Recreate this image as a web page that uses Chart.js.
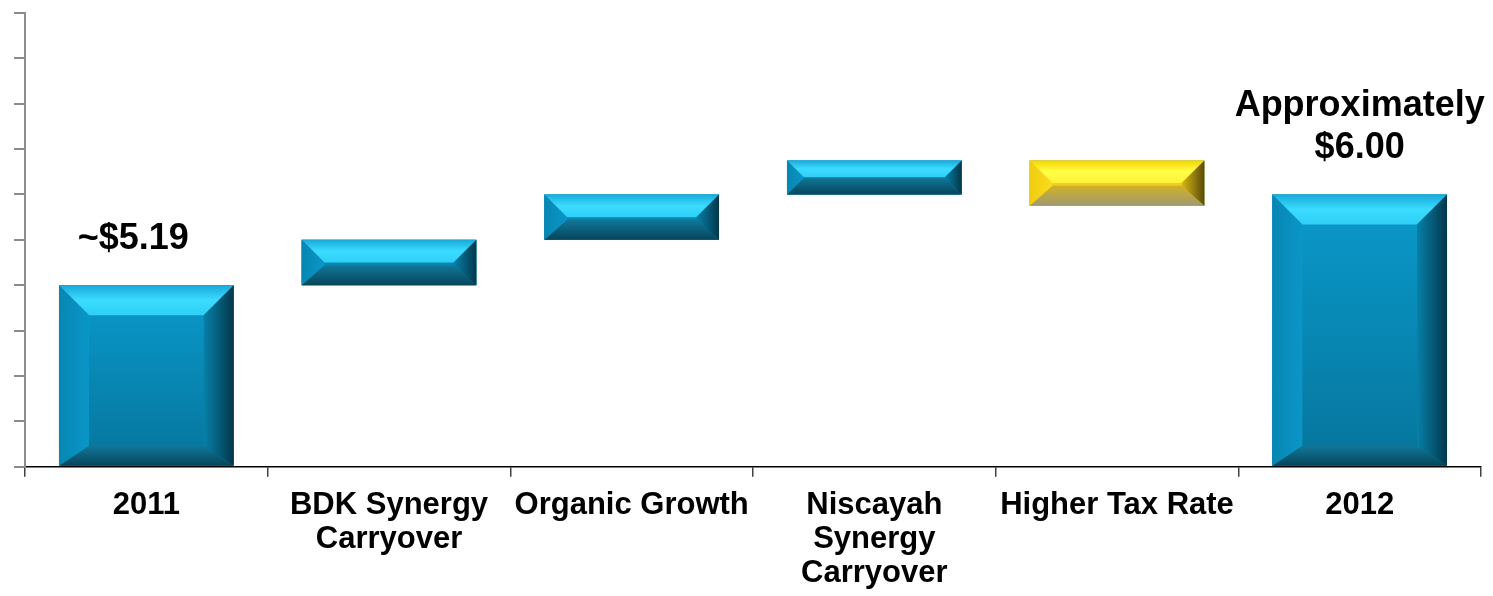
<!DOCTYPE html>
<html>
<head>
<meta charset="utf-8">
<script src="https://cdn.jsdelivr.net/npm/chart.js@4/dist/chart.umd.min.js"></script>
<style>
  html, body { margin: 0; padding: 0; background: #ffffff; }
  #wrap { width: 1493px; height: 596px; position: relative; }
</style>
</head>
<body>
<div id="wrap"><canvas id="barChart"></canvas></div>
<script>
// waterfall steps (1 unit = 1 tick on the hidden y axis)
var categories = [
  ["2011"],
  ["BDK Synergy", "Carryover"],
  ["Organic Growth"],
  ["Niscayah", "Synergy", "Carryover"],
  ["Higher Tax Rate"],
  ["2012"],
];
var barStart = [0, 4, 5, 6, 6.75, 0];
var barEnd = [4, 5, 6, 6.75, 5.75, 6];
var valueLabels = [["~$5.19"], [], [], [], [], ["Approximately", "$6.00"]];
var yMin = 0;
var yMax = 10;
var yStep = 1;

var blueBevel = {
  face: ["#0a9acc", "#06759c"],
  top: ["#1aa9da", "#3bdcff", "#2fcff6"],
  left: ["#0786b2", "#0a96c8"],
  right: ["#0780a8", "#03374b"],
  bottom: ["#117898", "#06455c"],
};
var yellowBevel = {
  face: ["#f8d81e", "#eac31a"],
  top: ["#f4d400", "#ffff48", "#fff23a"],
  left: ["#f0cc10", "#fadc1e"],
  right: ["#d8b814", "#5a4a08"],
  bottom: ["#d0b028", "#a09a70"],
};

function poly(ctx, pts, fill) {
  ctx.beginPath();
  ctx.moveTo(pts[0][0], pts[0][1]);
  for (var i = 1; i < pts.length; i++) ctx.lineTo(pts[i][0], pts[i][1]);
  ctx.closePath();
  ctx.fillStyle = fill;
  ctx.fill();
}

function lin(ctx, xa, ya, xb, yb, stops) {
  var g = ctx.createLinearGradient(xa, ya, xb, yb);
  stops.forEach(function (c, i) {
    g.addColorStop(i / (stops.length - 1), c);
  });
  return g;
}

var bevelPlugin = {
  id: "bevel",
  afterDatasetsDraw: function (chart) {
    var ctx = chart.ctx;
    var meta = chart.getDatasetMeta(0);
    meta.data.forEach(function (bar, i) {
      var p = bar.getProps(["x", "y", "base", "width"], true);
      var x0 = p.x - p.width / 2;
      var x1 = p.x + p.width / 2;
      var y0 = Math.min(p.y, p.base);
      var y1 = Math.max(p.y, p.base);
      var h = y1 - y0;
      var pal = barEnd[i] < barStart[i] ? yellowBevel : blueBevel;
      var dt = Math.min(30, h / 2);
      var ds = Math.min(30, h / 2);
      var db = Math.min(20, h - dt);
      ctx.save();
      poly(ctx, [[x0, y0], [x1, y0], [x1, y1], [x0, y1]], lin(ctx, 0, y0, 0, y1, pal.face));
      poly(ctx, [[x0, y0], [x1, y0], [x1 - ds, y0 + dt], [x0 + ds, y0 + dt]],
        lin(ctx, 0, y0, 0, y0 + dt, pal.top));
      poly(ctx, [[x0, y1], [x1, y1], [x1 - ds, y1 - db], [x0 + ds, y1 - db]],
        lin(ctx, 0, y1 - db, 0, y1, pal.bottom));
      poly(ctx, [[x0, y0], [x0 + ds, y0 + dt], [x0 + ds, y1 - db], [x0, y1]],
        lin(ctx, x0, 0, x0 + ds, 0, pal.left));
      poly(ctx, [[x1, y0], [x1 - ds, y0 + dt], [x1 - ds, y1 - db], [x1, y1]],
        lin(ctx, x1 - ds, 0, x1, 0, pal.right));
      ctx.restore();
    });
  },
};

var valueLabelPlugin = {
  id: "valueLabels",
  afterDatasetsDraw: function (chart, args, opts) {
    var ctx = chart.ctx;
    var meta = chart.getDatasetMeta(0);
    ctx.save();
    ctx.font = "bold 36px 'Liberation Sans', Arial, sans-serif";
    ctx.fillStyle = "#000000";
    ctx.textAlign = "center";
    ctx.textBaseline = "alphabetic";
    meta.data.forEach(function (bar, i) {
      var lines = valueLabels[i];
      if (!lines.length) return;
      var top = Math.min(bar.y, bar.base);
      var lastBase = top - 36;
      var dx = (opts.shift && opts.shift[i]) || 0;
      lines.forEach(function (txt, k) {
        ctx.fillText(txt, bar.x + dx, lastBase - (lines.length - 1 - k) * 42);
      });
    });
    ctx.restore();
  },
};

var bar = document.getElementById("barChart").getContext("2d");

var barChart = new Chart(bar, {
  type: "bar",
  data: {
    labels: categories,
    datasets: [
      {
        data: barStart.map(function (s, i) {
          return [s, barEnd[i]];
        }),
        backgroundColor: "#0890c0",
        borderWidth: 0,
        barPercentage: 0.9,
        categoryPercentage: 0.8,
      },
    ],
  },
  options: {
    responsive: true,
    maintainAspectRatio: false,
    animation: false,
    layout: {
      padding: { left: 14, right: 12, top: 13, bottom: -6 },
    },
    plugins: {
      legend: { display: false },
      tooltip: { enabled: false },
      title: { display: false },
      valueLabels: { shift: { 0: -13 } },
    },
    scales: {
      x: {
        border: { color: "#000000", width: 1.5 },
        grid: {
          offset: true,
          drawOnChartArea: false,
          drawTicks: true,
          tickLength: 10,
          color: "#404040",
          lineWidth: 1.5,
        },
        ticks: {
          autoSkip: false,
          maxRotation: 0,
          minRotation: 0,
          padding: 12,
          color: "#000000",
          font: {
            family: "'Liberation Sans', Arial, sans-serif",
            size: 31,
            weight: "bold",
            lineHeight: 1.09,
          },
        },
      },
      y: {
        min: yMin,
        max: yMax,
        border: { color: "#8c8c8c", width: 2 },
        grid: {
          drawOnChartArea: false,
          drawTicks: true,
          tickLength: 11,
          color: "#8c8c8c",
          lineWidth: 2,
        },
        ticks: {
          stepSize: yStep,
          display: false,
        },
      },
    },
  },
  plugins: [bevelPlugin, valueLabelPlugin],
});
</script>
</body>
</html>
